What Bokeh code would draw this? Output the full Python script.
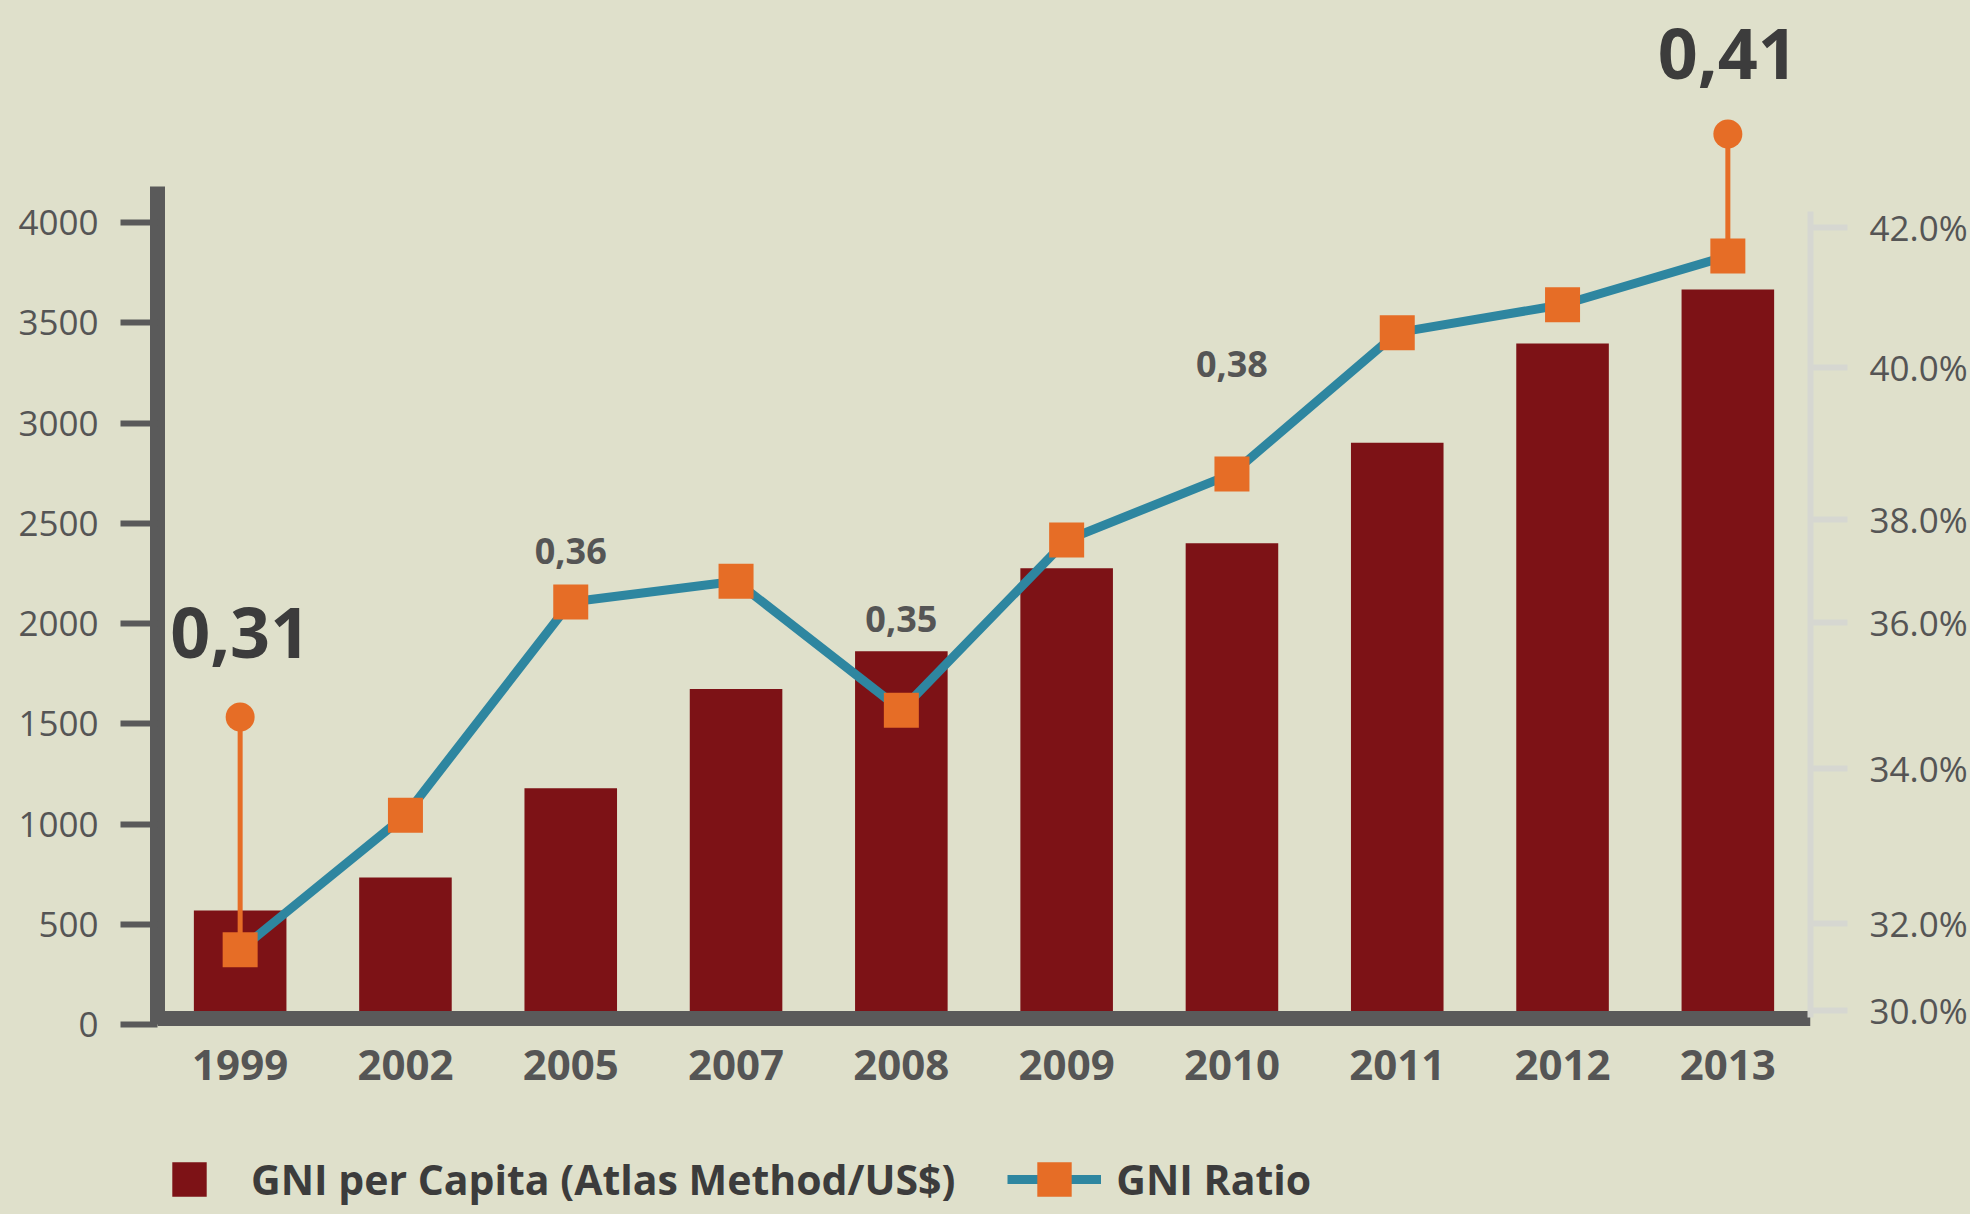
import numpy as np
from bokeh.plotting import figure
from bokeh.models import (ColumnDataSource, Range1d, LinearAxis, FixedTicker,
                          Legend, LegendItem, GlobalInlineStyleSheet)
from bokeh.core.properties import value
from bokeh.embed import file_html
from bokeh.resources import INLINE

# ---------------- data ----------------
years = ["1999", "2002", "2005", "2007", "2008", "2009", "2010", "2011", "2012", "2013"]
gni_per_capita = [570, 734, 1179, 1674, 1862, 2276, 2401, 2902, 3397, 3667]
gni_ratio_pct = [31.4, 33.4, 36.4, 36.8, 34.8, 37.6, 38.6, 40.5, 40.9, 41.6]

gni_ticks = [0, 500, 1000, 1500, 2000, 2500, 3000, 3500, 4000]
ratio_ticks = [30, 32, 34, 36, 38, 40, 42]
ratio_tick_labels = ["30.0%", "32.0%", "34.0%", "36.0%", "38.0%", "40.0%", "42.0%"]

value_label_years = ["1999", "2005", "2008", "2010", "2013"]
value_label_text = ["0,31", "0,36", "0,35", "0,38", "0,41"]

# ---------------- layout / style ----------------
# the right axis of the original is unevenly spaced: where each of its ticks sits
# on the (linear) display scale of the right-hand range
ratio_tick_display = [30.0, 31.33, 33.71, 35.95, 37.53, 39.86, 42.0]

BG = "#dfe0cb"
BAR = "#7d1216"
TEAL = "#2e86a0"
ORANGE = "#e66d26"
AXIS = "#5a5a5a"
RAXIS = "#d6d7d1"
TXT = "#555555"
DARK = "#3c3c3c"

ratio_display = list(np.interp(gni_ratio_pct, ratio_ticks, ratio_tick_display))
disp = dict(zip(years, ratio_display))

# plot area runs to the bottom of the page; the category axis sits at the baseline
p = figure(x_range=years, y_range=Range1d(-946.6, 5068.3),
           width=1970, height=1214, output_backend="svg", toolbar_location=None,
           min_border_left=157, min_border_right=160, min_border_top=8, min_border_bottom=0,
           background_fill_color=BG, border_fill_color=BG, outline_line_color=None)
p.extra_y_ranges = {"ratio": Range1d(26.872, 45.366)}
p.xgrid.visible = False
p.ygrid.visible = False
p.stylesheets = [GlobalInlineStyleSheet(css="body { background-color: %s; }" % BG)]

src = ColumnDataSource(dict(year=years, gni=gni_per_capita, ratio=ratio_display))

bar_r = p.vbar(x="year", top="gni", width=0.56, bottom=0, source=src,
               fill_color=BAR, line_color=None)
# zero-size markers on the bar tops: only used to draw a square swatch in the legend
bar_key = p.scatter(x="year", y="gni", source=src, marker="square", size=0,
                    fill_color=BAR, line_color=None)
line_r = p.line(x="year", y="ratio", source=src, line_color=TEAL, line_width=9,
                y_range_name="ratio")

# callouts with stems for first and last year
callout_years = ["1999", "2013"]
callout_dot = [34.50, 43.44]
p.segment(x0=callout_years, y0=[disp[y] for y in callout_years], x1=callout_years, y1=callout_dot,
          line_color=ORANGE, line_width=5, y_range_name="ratio")
p.scatter(x=callout_years, y=callout_dot, marker="circle", size=29, fill_color=ORANGE,
          line_color=None, y_range_name="ratio")

sq_r = p.scatter(x="year", y="ratio", source=src, marker="square", size=35,
                 fill_color=ORANGE, line_color=None, y_range_name="ratio")

# value labels
big_years = ["1999", "2013"]
big_text = [value_label_text[value_label_years.index(y)] for y in big_years]
p.text(x=big_years, y=[35.80, 44.68], text=big_text, y_range_name="ratio",
       text_font=value("Open Sans"), text_font_style="bold", text_font_size="70px",
       text_color=DARK, text_align="center", text_baseline="alphabetic")
small_years = ["2005", "2008", "2010"]
small_text = [value_label_text[value_label_years.index(y)] for y in small_years]
p.text(x=small_years, y=[37.05, 36.00, 39.91], text=small_text, y_range_name="ratio",
       text_font=value("Open Sans"), text_font_style="bold", text_font_size="36px",
       text_color=TXT, text_align="center", text_baseline="alphabetic")

# ---------------- axes ----------------
xa = p.xaxis[0]
xa.fixed_location = 33.4
xa.axis_line_width = 15
xa.axis_line_color = AXIS
xa.major_tick_line_color = None
xa.minor_tick_line_color = None
xa.major_label_text_font = "Open Sans"
xa.major_label_text_font_style = "bold"
xa.major_label_text_font_size = "42px"
xa.major_label_text_color = TXT
xa.major_label_standoff = 26

ya = p.yaxis[0]
ya.ticker = FixedTicker(ticks=gni_ticks)
ya.bounds = (0, 4180)
ya.axis_line_width = 15
ya.axis_line_color = AXIS
ya.major_tick_out = 37
ya.major_tick_in = 0
ya.major_tick_line_width = 6
ya.major_tick_line_color = AXIS
ya.minor_tick_line_color = None
ya.major_label_text_font = "Open Sans"
ya.major_label_text_font_size = "35px"
ya.major_label_text_color = TXT
ya.major_label_standoff = 22

ra = LinearAxis(y_range_name="ratio", ticker=FixedTicker(ticks=ratio_tick_display),
                major_label_overrides={float(d): l for d, l in zip(ratio_tick_display, ratio_tick_labels)},
                bounds=(29.893, 42.26))
ra.axis_line_width = 6
ra.axis_line_color = RAXIS
ra.major_tick_out = 37
ra.major_tick_in = 0
ra.major_tick_line_width = 6
ra.major_tick_line_color = RAXIS
ra.minor_tick_line_color = None
ra.major_label_text_font = "Open Sans"
ra.major_label_text_font_size = "35px"
ra.major_label_text_color = TXT
ra.major_label_standoff = 22
p.add_layout(ra, "right")

# ---------------- legend ----------------
legend = Legend(items=[LegendItem(label="GNI per Capita (Atlas Method/US$)", renderers=[bar_key]),
                       LegendItem(label="GNI Ratio", renderers=[line_r, sq_r])],
                orientation="horizontal", location=(-15, -8),
                glyph_width=94, glyph_height=86, label_standoff=15, spacing=52,
                padding=0, margin=0, border_line_color=None, background_fill_alpha=0,
                label_text_font="Open Sans", label_text_font_style="bold",
                label_text_font_size="41px", label_text_color=DARK)
p.add_layout(legend)

open("out.html", "w").write(file_html(p, INLINE))
